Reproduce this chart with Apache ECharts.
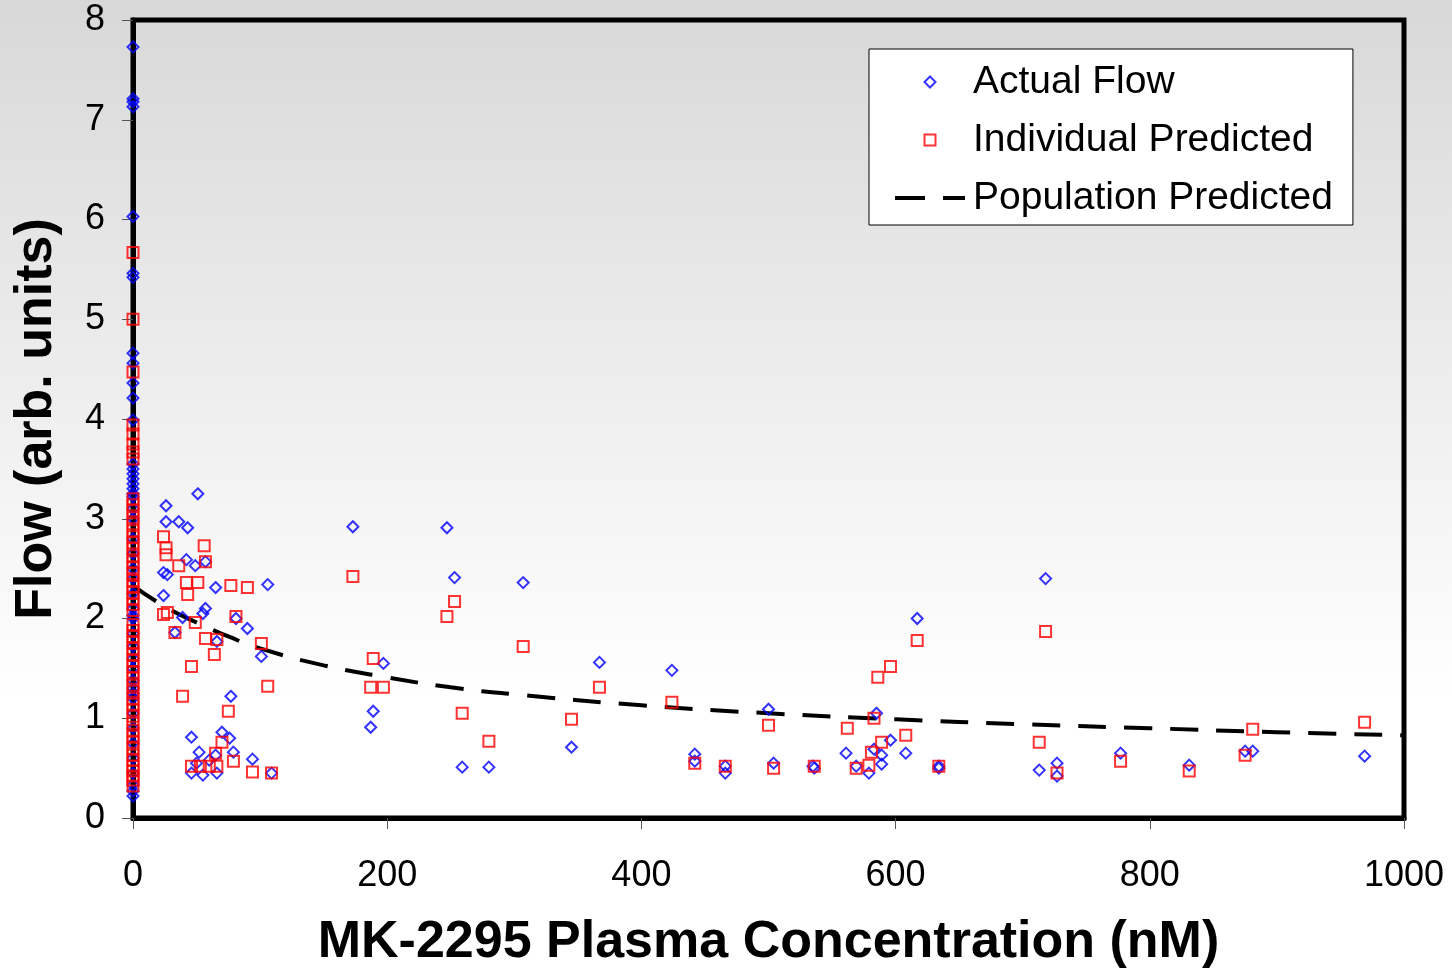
<!DOCTYPE html>
<html>
<head>
<meta charset="utf-8">
<title>MK-2295 flow</title>
<script src="https://cdn.jsdelivr.net/npm/echarts@6/dist/echarts.min.js"></script>
<style>
  html, body { margin: 0; padding: 0; }
  #chart { width: 1452px; height: 969px; }
</style>
</head>
<body>
<div id="chart"></div>
<script>
// Actual Flow (blue diamonds): concentration (nM) and flow
const actualConc = [
  0, 0, 0, 0, 0, 0, 0, 0, 0, 0, 0, 0, 0, 0, 0, 0, 0, 0, 0, 0, 0, 0, 0, 0,
  0, 0, 0, 0, 0, 0, 0, 0, 0, 0, 0, 0, 0, 0, 0, 0, 0, 0, 0, 0, 0, 0,
  51, 26, 26, 36, 43, 57, 42, 49, 24, 27, 65, 106, 24, 39, 55, 57, 81, 90, 33, 66,
  101, 77, 46, 70, 76, 52, 65, 79, 94, 46, 55, 66, 109, 50, 60,
  173, 247, 253, 307, 197, 189, 187, 259, 280, 345, 367, 424, 442, 442, 466, 466,
  500, 504, 535, 536, 561, 569, 579, 585, 583, 589, 589, 596, 608, 617, 634, 634,
  713, 718, 727, 727, 777, 831, 875, 881, 969
]
const actualFlow = [
  0.22, 0.27, 0.33, 0.45, 0.6, 0.75, 0.9, 1.05, 1.2, 1.25, 1.3, 1.38, 1.5, 1.6, 1.72, 1.85,
  2.0, 2.03, 2.1, 2.25, 2.4, 2.5, 2.65, 2.8, 3.0, 3.1, 3.22, 3.25, 3.3, 3.35, 3.4, 3.45,
  3.5, 3.55, 3.99, 4.21, 4.36, 4.56, 4.66, 5.42, 5.46, 6.03, 7.13, 7.18, 7.21, 7.73,
  3.25, 3.13, 2.97, 2.97, 2.91, 2.57, 2.59, 2.53, 2.46, 2.44, 2.31, 2.34, 2.23, 2.01, 2.05, 2.10, 2.00, 1.90, 1.86, 1.77,
  1.62, 1.22, 0.81, 0.86, 0.80, 0.66, 0.63, 0.66, 0.59, 0.45, 0.43, 0.45, 0.45, 0.55, 0.58,
  2.92, 2.91, 2.41, 2.36, 1.55, 1.07, 0.91, 0.51, 0.51, 0.71, 1.56, 1.48, 0.64, 0.57, 0.52, 0.45,
  1.09, 0.55, 0.52, 0.50, 0.65, 0.52, 0.45, 1.05, 0.69, 0.63, 0.54, 0.78, 0.65, 2.00, 0.52, 0.50,
  0.48, 2.40, 0.55, 0.42, 0.65, 0.53, 0.67, 0.67, 0.62
]

// Individual Predicted (red squares)
const indivConc = [
  0, 0, 0, 0, 0, 0, 0, 0, 0, 0, 0, 0, 0, 0, 0, 0, 0, 0, 0, 0, 0, 0, 0, 0, 0, 0, 0, 0,
  0, 0, 0, 0, 0, 0, 0, 0, 0, 0, 0, 0, 0, 0, 0, 0, 0, 0, 0, 0, 0, 0, 0, 0, 0, 0, 0,
  24, 26, 26, 56, 57, 36, 42, 51, 43, 77, 90, 24, 27, 49, 81, 33, 57, 66, 101, 64,
  46, 106, 39, 75, 70, 65, 79, 46, 53, 60, 66, 94, 109,
  173, 189, 187, 197, 253, 247, 307, 259, 280, 345, 367, 424, 442, 466, 500, 504,
  536, 562, 569, 579, 581, 583, 586, 589, 596, 608, 617, 634, 713, 718, 727, 777,
  831, 875, 881, 969
]
const indivFlow = [
  0.32, 0.38, 0.42, 0.47, 0.52, 0.58, 0.63, 0.7, 0.76, 0.82, 0.88, 0.95, 1.02, 1.08, 1.14, 1.2,
  1.27, 1.33, 1.4, 1.46, 1.52, 1.58, 1.64, 1.7, 1.76, 1.82, 1.88, 1.94, 2.08, 2.14, 2.2, 2.26,
  2.32, 2.38, 2.45, 2.51, 2.57, 2.63, 2.7, 2.76, 2.82, 2.88, 2.95, 3.01, 3.08, 3.14, 3.2,
  3.6, 3.67, 3.75, 3.85, 3.94, 4.47, 5.0, 5.67,
  2.82, 2.71, 2.64, 2.73, 2.57, 2.53, 2.36, 2.36, 2.24, 2.33, 2.31, 2.04, 2.06, 1.96, 2.02, 1.86, 1.80, 1.79, 1.75, 1.64,
  1.52, 1.32, 1.22, 1.07, 0.76, 0.65, 0.57, 0.52, 0.52, 0.52, 0.52, 0.46, 0.45,
  2.42, 1.60, 1.31, 1.31, 2.17, 2.02, 1.72, 1.05, 0.77, 0.99, 1.31, 1.16, 0.55, 0.52, 0.93, 0.50,
  0.52, 0.90, 0.50, 0.53, 0.66, 1.00, 1.41, 0.76, 1.52, 0.83, 1.78, 0.52, 0.76, 1.87, 0.45, 0.57,
  0.47, 0.63, 0.89, 0.96
]

// Population Predicted (dashed curve)
const popConc = [0, 25, 50, 75, 100, 150, 200, 250, 300, 400, 500, 600, 700, 800, 900, 1000]
const popFlow = [2.33, 2.12, 1.96, 1.82, 1.70, 1.53, 1.41, 1.31, 1.24, 1.13, 1.05, 0.99, 0.94, 0.90, 0.86, 0.83]

const xTicks = [0, 200, 400, 600, 800, 1000]
const yTicks = [0, 1, 2, 3, 4, 5, 6, 7, 8]

const zip = (xs, ys) => xs.map((x, i) => [x, ys[i]])

const chart = echarts.init(document.getElementById('chart'))
const font = '"Liberation Sans", Arial, sans-serif'

chart.setOption({
  animation: false,
  backgroundColor: {
    type: 'linear', x: 0, y: 0, x2: 0, y2: 1,
    colorStops: [
      { offset: 0, color: '#d8d8d8' },
      { offset: 0.72, color: '#ffffff' },
      { offset: 1, color: '#ffffff' }
    ]
  },
  textStyle: { fontFamily: font },
  grid: {
    left: 133,
    right: 48,
    top: 20,
    bottom: 151,
    outerBoundsMode: 'none',
    show: true,
    borderColor: '#000',
    borderWidth: 5,
    backgroundColor: 'transparent'
  },
  legend: {
    orient: 'vertical',
    left: 869,
    top: 49,
    backgroundColor: '#fff',
    borderColor: '#000',
    borderWidth: 1,
    padding: [12, 20, 6, 24],
    itemWidth: 70,
    itemHeight: 11,
    itemGap: 16,
    symbolKeepAspect: true,
    textStyle: { fontSize: 39, color: '#000', fontFamily: font, lineHeight: 42, padding: [0, 0, 0, 3] },
    data: [
      {
        name: 'Actual Flow',
        icon: 'path://M0,-1L1,0L0,1L-1,0Z',
        itemStyle: { color: 'rgba(0,0,0,0)', borderColor: '#0000ff', borderWidth: 2 }
      },
      {
        name: 'Individual Predicted',
        icon: 'path://M0,0H1V1H0Z',
        itemStyle: { color: 'rgba(0,0,0,0)', borderColor: '#ff0000', borderWidth: 2 }
      },
      {
        name: 'Population Predicted',
        icon: 'inherit',
        itemStyle: { color: 'rgba(0,0,0,0)', borderColor: 'rgba(0,0,0,0)', borderWidth: 0 },
        lineStyle: { color: '#000', width: 4, type: [30, 18] }
      }
    ]
  },
  xAxis: {
    type: 'value',
    min: xTicks[0],
    max: xTicks[xTicks.length - 1],
    interval: 200,
    name: 'MK-2295 Plasma Concentration (nM)',
    nameLocation: 'middle',
    nameGap: 99,
    nameTextStyle: { fontSize: 52, fontWeight: 'bold', color: '#000', fontFamily: font },
    axisLine: { lineStyle: { color: '#000', width: 5 } },
    axisTick: { inside: false, length: 11, lineStyle: { color: '#555', width: 1 } },
    axisLabel: { fontSize: 36, color: '#000', margin: 40, fontFamily: font, formatter: v => String(v) },
    splitLine: { show: false }
  },
  yAxis: {
    type: 'value',
    min: yTicks[0],
    max: yTicks[yTicks.length - 1],
    interval: 1,
    name: 'Flow (arb. units)',
    nameLocation: 'middle',
    nameGap: 70,
    nameTextStyle: { fontSize: 52, fontWeight: 'bold', color: '#000', fontFamily: font },
    axisLine: { lineStyle: { color: '#000', width: 5 } },
    axisTick: { inside: false, length: 11, lineStyle: { color: '#555', width: 1 } },
    axisLabel: { fontSize: 36, color: '#000', margin: 28, fontFamily: font },
    splitLine: { show: false }
  },
  series: [
    {
      name: 'Actual Flow',
      type: 'scatter',
      clip: false,
      symbol: 'diamond',
      symbolSize: 11,
      itemStyle: { color: 'rgba(0,0,0,0)', borderColor: '#0000ff', borderWidth: 2 },
      data: zip(actualConc, actualFlow),
      z: 3
    },
    {
      name: 'Individual Predicted',
      type: 'scatter',
      clip: false,
      symbol: 'rect',
      symbolSize: 11,
      itemStyle: { color: 'rgba(0,0,0,0)', borderColor: '#ff0000', borderWidth: 2 },
      data: zip(indivConc, indivFlow),
      z: 4
    },
    {
      name: 'Population Predicted',
      type: 'line',
      smooth: true,
      showSymbol: false,
      symbol: 'none',
      lineStyle: { color: '#000', width: 4, type: [28, 18] },
      itemStyle: { color: '#000' },
      data: zip(popConc, popFlow),
      z: 2
    }
  ]
})
</script>
</body>
</html>
